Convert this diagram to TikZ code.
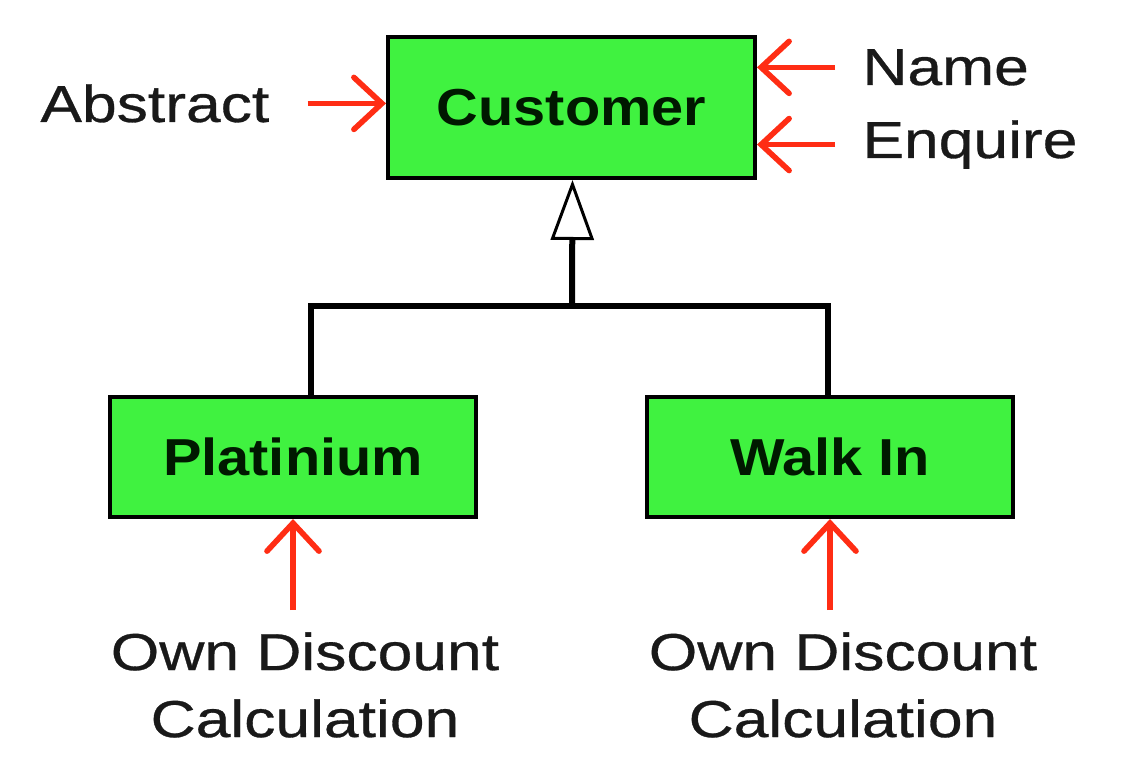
\documentclass[tikz,border=0pt]{standalone}
\usepackage{fontspec}
\setmainfont{Liberation Sans}[FakeStretch=1.2, FakeBold=0.6]
\newfontfamily\boxfont{Liberation Sans}[FakeStretch=1.11]
\usetikzlibrary{arrows.meta}
\usetikzlibrary{positioning}
\definecolor{boxgreen}{RGB}{64,242,64}
\definecolor{arrowred}{RGB}{255,45,20}
\definecolor{textgray}{RGB}{25,25,25}

\begin{document}
\begin{tikzpicture}[x=0.5pt,y=-0.5pt,
        txt/.style={font=\fontsize{26}{33.5}\selectfont, text=textgray, inner sep=0pt},
        classbox/.style={draw=black, line width=2pt, fill=boxgreen, font=\fontsize{26}{33.5}\boxfont\bfseries, text=black!90!green},
        tree/.style={draw=black, line width=3pt},
        redarrow/.style={draw=arrowred, line width=2.8pt, -{Straight Barb[length=14pt,width=26pt,line cap=round]}}]
        \useasboundingbox (0,0) rectangle (1131,775);
        \node[classbox, minimum width=183.5pt, minimum height=70.5pt] (customer) at (571.5,107.5) {Customer};
        \node[classbox, minimum width=183pt, minimum height=60pt] (platinium) at (293,457) {Platinium};
        \node[classbox, minimum width=183pt, minimum height=60pt] (walkin) at (830,457) {Walk In};
        \node[txt, anchor=base west] (abstract) at (40,122) {Abstract};
        \node[txt, anchor=base west] (name) at (862,85) {Name};
        \node[txt, anchor=base west] (enquire) at (862,158) {Enquire};
        \node[txt, anchor=north, align=center] (owna) at (305,632) {Own Discount\\Calculation};
        \node[txt, anchor=north, align=center] (ownb) at (843,632) {Own Discount\\Calculation};
        \coordinate (junction) at (572,306);
        \draw[tree] ([xshift=9pt]platinium.north) |- (junction) -| ([xshift=-1pt]walkin.north);
        \draw[tree, -{Triangle[open, fill=white, length=30pt, width=21.5pt, line width=1.5pt]}] (junction) -- ([xshift=0.5pt]customer.south);
        \draw[redarrow, shorten <=19pt] (abstract.east) -- (customer.west |- abstract.east);
        \draw[redarrow, shorten <=13.5pt] (name.west) -- (customer.east |- name.west);
        \draw[redarrow, shorten <=13.5pt] (enquire.west) -- (customer.east |- enquire.west);
        \draw[redarrow, shorten <=11pt] (platinium.south |- owna.north) -- (platinium.south);
        \draw[redarrow, shorten <=11pt] (walkin.south |- ownb.north) -- (walkin.south);
    \end{tikzpicture}
\end{document}
